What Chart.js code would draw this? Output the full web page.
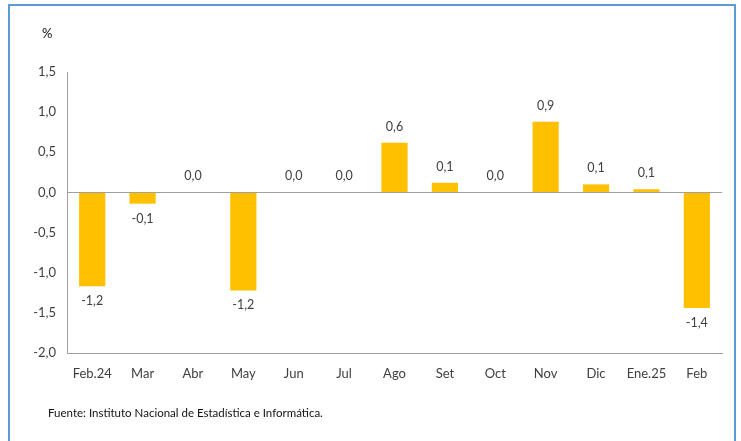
<!DOCTYPE html>
<html>
<head>
<meta charset="utf-8">
<script src="https://cdn.jsdelivr.net/npm/chart.js@4/dist/chart.umd.min.js"></script>
<style>
  body { margin: 0; background: #fff; }
  #wrap { position: relative; width: 741px; height: 441px; }
  #frame { position: absolute; left: 8px; top: 4px; width: 728px; height: 445px;
           border: 2px solid #5b9bd5; border-bottom: none; box-sizing: border-box; }
  #pct { position: absolute; left: 42px; top: 25px; font: 13px Lato, sans-serif; color: #111; }
  #src { position: absolute; left: 48px; top: 406px; font: 11.5px Lato, sans-serif; color: #111; }
  canvas { position: absolute; left: 0; top: 0; }
</style>
</head>
<body>
<div id="wrap">
  <canvas id="myChart" width="741" height="441"></canvas>
  <div id="frame"></div>
  <div id="pct">%</div>
  <div id="src">Fuente: Instituto Nacional de Estadística e Informática.</div>
</div>
<script>
const months = ['Feb.24', 'Mar', 'Abr', 'May', 'Jun', 'Jul', 'Ago', 'Set', 'Oct', 'Nov', 'Dic', 'Ene.25', 'Feb'];
const variation = [-1.17, -0.14, 0.0, -1.22, 0.0, 0.0, 0.62, 0.12, 0.0, 0.88, 0.10, 0.04, -1.44];
const shownLabels = ['-1,2', '-0,1', '0,0', '-1,2', '0,0', '0,0', '0,6', '0,1', '0,0', '0,9', '0,1', '0,1', '-1,4'];
const yTicks = [-2.0, -1.5, -1.0, -0.5, 0.0, 0.5, 1.0, 1.5];

const ctx = document.querySelector('#myChart').getContext('2d');

// value labels above / below the bars
const barLabels = {
  id: 'barLabels',
  afterDatasetsDraw(chart) {
    const c = chart.ctx;
    const meta = chart.getDatasetMeta(0);
    c.save();
    c.font = '12.5px Lato, sans-serif';
    c.fillStyle = '#404040';
    c.textAlign = 'center';
    c.textBaseline = 'middle';
    meta.data.forEach((bar, i) => {
      const v = variation[i];
      const y = v < 0 ? bar.y + 15 : bar.y - 16;
      c.fillText(shownLabels[i], bar.x, y);
    });
    c.restore();
  }
};

new Chart(ctx, {
  type: 'bar',
  data: {
    labels: months,
    datasets: [{
      data: variation,
      backgroundColor: '#FFC000',
      barPercentage: 0.52,
      categoryPercentage: 1
    }]
  },
  options: {
    responsive: false,
    animation: false,
    layout: { padding: { left: 0, right: 19, top: 72, bottom: 0 } },
    plugins: { legend: { display: false }, tooltip: { enabled: false } },
    scales: {
      x: {
        grid: { display: false, drawTicks: false },
        border: { color: '#a0a0a0', width: 1 },
        ticks: { color: '#404040', font: { family: 'Lato', size: 13 }, padding: 13 },
        afterFit: (s) => { s.height = 88; }
      },
      y: {
        min: -2,
        max: 1.5,
        afterBuildTicks: (s) => { s.ticks = yTicks.map(v => ({ value: v })); },
        grid: {
          drawTicks: false,
          color: (c) => c.tick && c.tick.value === 0 ? '#a0a0a0' : 'rgba(0,0,0,0)'
        },
        border: { color: '#a0a0a0', width: 1 },
        ticks: {
          color: '#404040',
          font: { family: 'Lato', size: 13 },
          padding: 11,
          callback: (value) => value.toFixed(1).replace('.', ',')
        },
        afterFit: (s) => { s.width = 67; }
      }
    }
  },
  plugins: [barLabels]
});
</script>
</body>
</html>
